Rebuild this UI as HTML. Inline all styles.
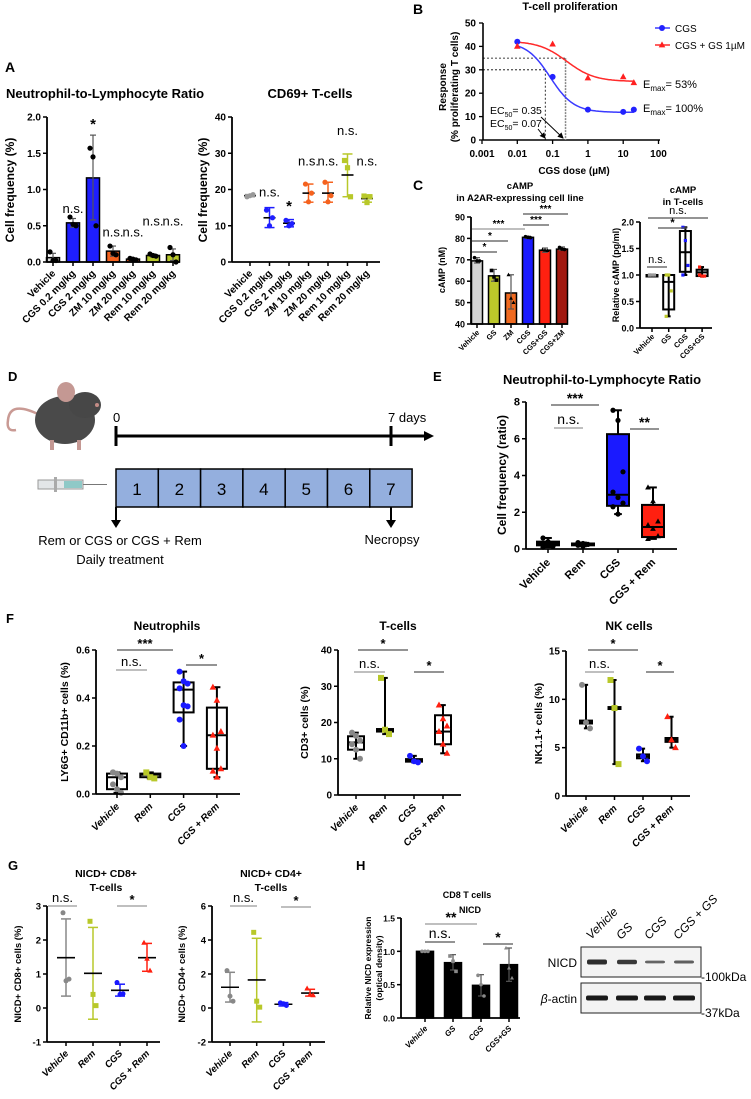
<!DOCTYPE html>
<html><head><meta charset="utf-8"><style>
html,body{margin:0;padding:0;background:#fff;}
svg{display:block;font-family:"Liberation Sans",Arial,sans-serif;}
text{font-family:"Liberation Sans",Arial,sans-serif;}
</style></head><body>
<svg id="fig" width="751" height="1099" viewBox="0 0 751 1099" xmlns="http://www.w3.org/2000/svg"></svg>
<script>
// ---------- DATA ----------
const A1_cats=["Vehicle","CGS 0.2 mg/kg","CGS 2 mg/kg","ZM 10 mg/kg","ZM 20 mg/kg","Rem 10 mg/kg","Rem 20 mg/kg"];
const A1_vals=[0.06,0.54,1.16,0.15,0.04,0.09,0.10];
const A1_errLo=[0.0,0.48,0.58,0.08,0.02,0.07,0.02];
const A1_errHi=[0.12,0.60,1.75,0.22,0.05,0.11,0.18];
const A1_pts=[[0.14,0.02,0.02],[0.62,0.52,0.50],[1.57,1.45,0.50],[0.22,0.12,0.10],[0.05,0.04,0.03],[0.11,0.09,0.08],[0.20,0.10,0.0]];
const A1_sig=["","n.s.","*","n.s.","n.s.","n.s.","n.s."];
const A1_sigVal=[0,0.62,1.78,0.3,0.3,0.45,0.45];
const A2_cats=A1_cats;
const A2_mean=[18.3,12.2,10.7,19,19,24,17.5];
const A2_lo=[18,9.5,9.7,16.5,16.5,18,16.5];
const A2_hi=[18.6,15,11.7,21.5,22,29.8,18.5];
const A2_pts=[[18,18.3,18.6],[14.3,10,12.2],[11.5,10,10.6],[21.5,16.6,19],[22,16.6,18.3],[28,26,18],[18.2,16.4,18]];
const A2_sig=["","n.s.","*","n.s.","n.s.","n.s.","n.s."];
const A2_sigVal=[0,17,13,25.5,25.5,34,25.5];
const B_doses=[0.01,0.1,1,10,20];
const B_cgs=[42,27,13,12,13];
const B_cgsgs=[40,41,26.5,27,24.5];
const B_top=[42,42.3], B_bottom=[11.8,25], B_ec50=[0.085,0.25], B_hill=[1.3,1.1];
const B_xticks=[0.001,0.01,0.1,1,10,100];
const B_xtickLabels=["0.001","0.01","0.1","1","10","100"];
const B_yticks=[0,10,20,30,40,50];
const C1_cats=["Vehicle","GS","ZM","CGS","CGS+GS","CGS+ZM"];
const C1_vals=[69.5,62.5,54.5,80.5,74.5,75];
const C1_lo=[68.5,60,47,80,73.5,74.5];
const C1_hi=[71,65.5,63,81,75.5,76];
const C1_pts=[[71,69.5,69.5],[65,62,60.5],[63,52,50],[80.8,80.5,80.3],[74.7,74.5,74.3],[75.8,75,74.8]];
const C2_cats=["Vehicle","GS","CGS","CGS+GS"];
const C2_box=[[1,1,1,1,1],[0.22,0.35,0.87,1.0,1.0],[1.0,1.06,1.43,1.83,1.9],[0.97,0.98,1.05,1.1,1.15]];
const C2_pts=[[1,1,1,1],[1,1,0.7,0.22],[1.9,1.65,1.18,1.0],[1.15,0.98,0.98,1.0]];
const E_cats=["Vehicle","Rem","CGS","CGS + Rem"];
const E_box=[[0.1,0.2,0.3,0.4,0.6],[0.15,0.2,0.25,0.3,0.35],[1.9,2.35,2.95,6.25,7.55],[0.55,0.65,1.2,2.4,3.35]];
const E_pts=[[0.6,0.4,0.3,0.25,0.2,0.15,0.1],[0.35,0.3,0.25,0.2,0.15],[7.55,7.0,4.2,3.1,2.8,2.5,2.3,1.9],[3.35,2.6,1.5,1.3,1.1,0.7,0.55]];
const F_cats=["Vehicle","Rem","CGS","CGS + Rem"];
const F1_box=[[0.005,0.02,0.07,0.085,0.09],[0.065,0.07,0.08,0.085,0.09],[0.2,0.34,0.435,0.465,0.51],[0.07,0.105,0.245,0.36,0.445]];
const F1_pts=[[0.09,0.085,0.07,0.04,0.02,0.005,0.09],[0.09,0.07,0.065],[0.51,0.47,0.46,0.44,0.37,0.365,0.31,0.2],[0.445,0.39,0.26,0.245,0.19,0.105,0.095,0.07]];
const F2_box=[[10,12.5,14.5,16.2,17.2],[16.8,17.5,18,18.2,32.3],[9.0,9.2,9.5,9.9,10.8],[11.5,14,17.5,22,24.8]];
const F2_pts=[[17.2,16.3,15,14,12.5,10],[32.3,18,16.8],[10.8,9.3,9.0],[24.8,21,19,17.5,14,11.5]];
const F3_box=[[7,7.5,7.6,7.8,11.5],[3.3,9.0,9.1,9.2,12],[3.6,3.9,4.1,4.3,4.9],[5,5.6,5.8,6.0,8.2]];
const F3_pts=[[11.5,7.6,7],[12,9.1,3.3],[4.9,4.1,3.6],[8.2,5.8,5]];
const G_cats=["Vehicle","Rem","CGS","CGS + Rem"];
const G1_mean=[1.48,1.02,0.52,1.48];
const G1_lo=[0.35,-0.33,0.35,1.08];
const G1_hi=[2.62,2.37,0.7,1.9];
const G1_pts=[[2.8,0.8,0.85],[2.55,0.4,0.07],[0.75,0.4,0.42],[1.92,1.45,1.1]];
const G2_mean=[1.22,1.65,0.22,0.88];
const G2_lo=[0.35,-0.82,0.12,0.7];
const G2_hi=[2.1,4.1,0.32,1.1];
const G2_pts=[[2.2,0.7,0.4],[4.45,0.4,0.05],[0.3,0.25,0.15],[1.15,0.8,0.75]];
const H_cats=["Vehicle","GS","CGS","CGS+GS"];
const H_vals=[1.0,0.83,0.49,0.8];
const H_lo=[1.0,0.72,0.33,0.55];
const H_hi=[1.0,0.95,0.65,1.05];
const H_pts=[[1,1,1],[0.93,0.85,0.7],[0.64,0.5,0.33],[1.05,0.75,0.6]];
const Blot_lanes=["Vehicle","GS","CGS","CGS + GS"];
const Blot_nicd=[1.0,0.9,0.55,0.6];
const Blot_actin=[1.0,1.0,1.0,1.0];

// ---------- HELPERS ----------
const svg=document.getElementById('fig');
const NS='http://www.w3.org/2000/svg';
function el(tag,attrs,name,parent){
  const e=document.createElementNS(NS,tag);
  for(const k in attrs) e.setAttribute(k,attrs[k]);
  
  
  (parent||svg).appendChild(e);
  return e;
}
function txt(x,y,s,o,name){
  o=o||{};
  const a={x:x,y:y,'font-size':o.size||11,'font-weight':o.weight||'bold',fill:o.fill||'#000','text-anchor':o.anchor||'start'};
  if(o.style) a['font-style']=o.style;
  if(o.rot!==undefined) a.transform='rotate('+o.rot+' '+x+' '+y+')';
  const t=el('text',a,name);
  t.textContent=s;
  return t;
}
function line(x1,y1,x2,y2,stroke,w,name,dash){
  const a={x1:x1,y1:y1,x2:x2,y2:y2,stroke:stroke,'stroke-width':w};
  if(dash) a['stroke-dasharray']=dash;
  return el('line',a,name);
}
function scaleY(p){return v=>p.yBot-(v-p.min)/(p.max-p.min)*(p.yBot-p.yTop);}
function catX(p,i){return p.cx0+i*p.step;}
function yAxis(p,ticks,fmt,name,fs){
  const sy=scaleY(p);
  line(p.x,sy(p.min),p.x,sy(p.max),'#000',1.8,name+'-y-axis');
  ticks.forEach(v=>{
    line(p.x-4,sy(v),p.x,sy(v),'#000',1.5,name+'-y-tick');
    txt(p.x-6,sy(v)+3.5,fmt(v),{anchor:'end',size:fs||10},name+'-y-tick-label');
  });
}
function xAxis(p,cats,name,o){
  o=o||{};
  const sy=scaleY(p);
  const y=sy(p.min);
  line(p.x,y,p.xEnd,y,'#000',1.8,name+'-x-axis');
  cats.forEach((c,i)=>{
    const x=catX(p,i);
    line(x,y,x,y+4,'#000',1.5,name+'-x-tick');
    txt(x+3,y+(o.dy||12),c,{anchor:'end',rot:-45,size:o.size||10,style:o.style},name+'-x-label');
  });
}
function marker(shape,x,y,r,color,name){
  if(shape==='s') return el('rect',{x:x-r,y:y-r,width:2*r,height:2*r,fill:color},name);
  if(shape==='t') return el('polygon',{points:(x)+','+(y-r*1.2)+' '+(x-r*1.1)+','+(y+r*0.8)+' '+(x+r*1.1)+','+(y+r*0.8),fill:color},name);
  return el('circle',{cx:x,cy:y,r:r,fill:color},name);
}
function jit(i,n,w){ if(n<=1) return 0; return (i%3-1)*w; }
function sigLine(x1,x2,y,label,name,col,fs){
  line(x1,y,x2,y,col||'#555',1.2,name+'-line');
  txt((x1+x2)/2,y-(label==='n.s.'?4:2),label,{anchor:'middle',size:fs||13,weight:label==='n.s.'?'normal':'bold'},name+'-label');
}
function boxPlot(p,i,q,fill,name,bw){
  const sy=scaleY(p),x=catX(p,i);bw=bw||10;
  line(x,sy(q[0]),x,sy(q[4]),'#000',2,name+'-whisker');
  line(x-bw*0.35,sy(q[0]),x+bw*0.35,sy(q[0]),'#000',2,name+'-cap-low');
  line(x-bw*0.35,sy(q[4]),x+bw*0.35,sy(q[4]),'#000',2,name+'-cap-high');
  el('rect',{x:x-bw,y:sy(q[3]),width:2*bw,height:Math.max(1.5,sy(q[1])-sy(q[3])),fill:fill,stroke:'#000','stroke-width':2},name+'-box');
  line(x-bw,sy(q[2]),x+bw,sy(q[2]),'#000',2,name+'-median');
}
function points(p,i,vals,shape,color,r,jw,name){
  const sy=scaleY(p),x=catX(p,i);
  vals.forEach((v,k)=>marker(shape,x+jit(k,vals.length,jw),sy(v),r,color,name));
}
function meanSd(p,i,m,lo,hi,color,name,mw){
  const sy=scaleY(p),x=catX(p,i);mw=mw||9;
  line(x,sy(lo),x,sy(hi),color,1.5,name+'-sd');
  line(x-5,sy(lo),x+5,sy(lo),color,1.5,name+'-sd-low');
  line(x-5,sy(hi),x+5,sy(hi),color,1.5,name+'-sd-high');
  line(x-mw,sy(m),x+mw,sy(m),'#000',1.6,name+'-mean');
}
function bar(p,i,v,lo,hi,fill,w,name){
  const sy=scaleY(p),x=catX(p,i);
  el('rect',{x:x-w/2,y:sy(v),width:w,height:sy(p.min)-sy(v),fill:fill,stroke:'#000','stroke-width':1.5},name);
  line(x,sy(lo),x,sy(hi),'#555',1.2,name+'-err');
  line(x-3,sy(hi),x+3,sy(hi),'#555',1.2,name+'-err-cap');
  line(x-3,sy(lo),x+3,sy(lo),'#555',1.2,name+'-err-cap');
}
const f1=v=>v.toFixed(1), f0=v=>String(v);

// ---------- PANEL A ----------
txt(5,72,'A',{size:14},'panel-a-letter');
txt(6,98,'Neutrophil-to-Lymphocyte Ratio',{size:13},'panel-a-left-title');
txt(310,98,'CD69+ T-cells',{size:13,anchor:'middle'},'panel-a-right-title');
const pA1={x:47,xEnd:180,yTop:117,yBot:262,min:0,max:2,cx0:53,step:20};
const A1col=['#d8d8d8','#1e1eff','#1e1eff','#f5621e','#f5621e','#b8c82a','#b8c82a'];
A1_vals.forEach((v,i)=>bar(pA1,i,v,A1_errLo[i],A1_errHi[i],A1col[i],13,'a1-bar-'+i));
A1_pts.forEach((vs,i)=>points(pA1,i,vs,'c','#000',2.6,3,'a1-point'));
yAxis(pA1,[0,0.5,1,1.5,2],f1,'a1');
xAxis(pA1,A1_cats,'a1',{size:10});
A1_sig.forEach((s,i)=>{ if(s) txt(catX(pA1,i),scaleY(pA1)(A1_sigVal[i])-4,s,{anchor:'middle',size:s==='*'?15:13,weight:s==='*'?'bold':'normal'},'a1-sig'); });
txt(14,190,'Cell frequency (%)',{size:12,anchor:'middle',rot:-90},'a1-y-title');

const pA2={x:232,xEnd:380,yTop:117,yBot:262,min:0,max:40,cx0:250,step:19.5};
const A2col=['#999','#1e1eff','#1e1eff','#f5621e','#f5621e','#b8c82a','#b8c82a'];
const A2shape=['c','c','c','c','c','s','s'];
A2_mean.forEach((m,i)=>meanSd(pA2,i,m,A2_lo[i],A2_hi[i],A2col[i],'a2-group-'+i,6));
A2_pts.forEach((vs,i)=>points(pA2,i,vs,A2shape[i],A2col[i],2.6,3,'a2-point'));
yAxis(pA2,[0,10,20,30,40],f0,'a2');
xAxis(pA2,A2_cats,'a2',{size:10});
A2_sig.forEach((s,i)=>{ if(s) txt(catX(pA2,i),scaleY(pA2)(A2_sigVal[i])-4,s,{anchor:'middle',size:s==='*'?15:13,weight:s==='*'?'bold':'normal'},'a2-sig'); });
txt(207,190,'Cell frequency (%)',{size:12,anchor:'middle',rot:-90},'a2-y-title');

// ---------- PANEL B ----------
txt(413,14,'B',{size:14},'panel-b-letter');
txt(570,10,'T-cell proliferation',{size:11,anchor:'middle'},'panel-b-title');
const pB={x:483,xEnd:660,yTop:23,yBot:140,min:0,max:50};
const sxB=v=>482+(Math.log10(v)+3)*35.3;
const syB=scaleY(pB);
line(pB.x,pB.yBot,pB.x,pB.yTop,'#000',1.6,'b-y-axis');
line(pB.x,pB.yBot,pB.xEnd,pB.yBot,'#000',1.6,'b-x-axis');
B_yticks.forEach(v=>{line(pB.x-4,syB(v),pB.x,syB(v),'#000',1.3,'b-y-tick');txt(pB.x-7,syB(v)+3.5,String(v),{anchor:'end',size:10},'b-y-tick-label');});
B_xticks.forEach((v,i)=>{line(sxB(v),pB.yBot,sxB(v),pB.yBot+4,'#000',1.3,'b-x-tick');txt(sxB(v),pB.yBot+17,B_xtickLabels[i],{anchor:'middle',size:10},'b-x-tick-label');});
txt(574,174,'CGS dose (µM)',{size:10,anchor:'middle'},'b-x-title');
txt(446,87,'Response',{size:10,anchor:'middle',rot:-90},'b-y-title');
txt(458,87,'(% proliferating T cells)',{size:10,anchor:'middle',rot:-90},'b-y-title-2');
line(pB.x,syB(35),sxB(B_ec50[1]*0.93),syB(35),'#000',0.8,'b-guide',"2,2");
line(sxB(B_ec50[1]*0.93),syB(35),sxB(B_ec50[1]*0.93),pB.yBot,'#888',1.5,'b-guide',"2,1");
line(pB.x,syB(30),sxB(0.062),syB(30),'#000',0.8,'b-guide',"2,2");
line(sxB(0.062),syB(30),sxB(0.062),pB.yBot,'#000',0.8,'b-guide',"2,2");
const Bcols=['#3a3aff','#ff2a2a'];
[0,1].forEach(s=>{
  let d='';
  for(let k=0;k<=80;k++){const lx=-2+k*(Math.log10(20)+2)/80;const x=Math.pow(10,lx);
    const y=B_bottom[s]+(B_top[s]-B_bottom[s])/(1+Math.pow(x/B_ec50[s],B_hill[s]));
    d+=(k?'L':'M')+sxB(x).toFixed(1)+','+syB(y).toFixed(1);}
  el('path',{d:d,fill:'none',stroke:Bcols[s],'stroke-width':1.5},'b-fit-curve-'+s);
});
B_doses.forEach((d,i)=>marker('c',sxB(d),syB(B_cgs[i]),3,'#2222ff','b-cgs-point'));
B_doses.forEach((d,i)=>marker('t',sxB(d),syB(B_cgsgs[i]),3,'#ff2020','b-cgsgs-point'));
line(655,28,670,28,'#3a3aff',1.5,'b-legend-line-cgs');marker('c',662,28,3,'#2222ff','b-legend-marker-cgs');
txt(675,32,'CGS',{size:10,weight:'normal'},'b-legend-cgs');
line(655,45,670,45,'#ff2a2a',1.5,'b-legend-line-cgsgs');marker('t',662,45,3,'#ff2020','b-legend-marker-cgsgs');
txt(675,49,'CGS + GS 1µM',{size:10,weight:'normal'},'b-legend-cgsgs');
(function(){const t=txt(643,88,'',{size:11,weight:'normal'},'b-emax-red');t.innerHTML='E<tspan font-size="8" dy="3">max</tspan><tspan dy="-3">= 53%</tspan>';})();
(function(){const t=txt(643,112,'',{size:11,weight:'normal'},'b-emax-blue');t.innerHTML='E<tspan font-size="8" dy="3">max</tspan><tspan dy="-3">= 100%</tspan>';})();
(function(){const t=txt(490,114,'',{size:10.5,weight:'normal'},'b-ec50-red');t.innerHTML='EC<tspan font-size="7" dy="3">50</tspan><tspan dy="-3">= 0.35</tspan>';})();
(function(){const t=txt(490,127,'',{size:10.5,weight:'normal'},'b-ec50-blue');t.innerHTML='EC<tspan font-size="7" dy="3">50</tspan><tspan dy="-3">= 0.07</tspan>';})();
el('defs',{},'arrow-defs').innerHTML='<marker id="ah" markerWidth="6" markerHeight="6" refX="5" refY="3" orient="auto"><path d="M0,0L6,3L0,6z" fill="#000"/></marker>';
el('line',{x1:538,y1:129,x2:545,y2:138,stroke:'#000','stroke-width':1,'marker-end':'url(#ah)'},'b-ec50-arrow-blue');
el('line',{x1:541,y1:117,x2:563,y2:138,stroke:'#000','stroke-width':1,'marker-end':'url(#ah)'},'b-ec50-arrow-red');

// ---------- PANEL C ----------
txt(413,190,'C',{size:14},'panel-c-letter');
txt(520,189,'cAMP',{size:9.5,anchor:'middle'},'c1-title');
txt(520,201,'in A2AR-expressing cell line',{size:9.5,anchor:'middle'},'c1-title-2');
const pC1={x:471,xEnd:568,yTop:217,yBot:324,min:40,max:90,cx0:477,step:17};
const C1col=['#d4d4d4','#bcc82a','#f06a20','#1a1aff','#ff2010','#a0180f'];
const C1shape=['c','s','t','c','t','c'];
C1_vals.forEach((v,i)=>bar(pC1,i,v,C1_lo[i],C1_hi[i],C1col[i],11,'c1-bar-'+i));
C1_pts.forEach((vs,i)=>points(pC1,i,vs,C1shape[i],'#000',1.8,2.5,'c1-point'));
yAxis(pC1,[40,50,60,70,80,90],f0,'c1',9);
xAxis(pC1,C1_cats,'c1',{size:7.5,dy:9});
sigLine(523,568,214,'***','c1-sig-a','#555',10);
sigLine(523,549,225,'***','c1-sig-b','#555',10);
sigLine(472,525,229,'***','c1-sig-c','#999',10);
sigLine(472,508,241,'*','c1-sig-d','#555',10);
sigLine(472,497,252,'*','c1-sig-e','#555',10);
txt(445,270,'cAMP (nM)',{size:9,anchor:'middle',rot:-90},'c1-y-title');

txt(683,193,'cAMP',{size:9.5,anchor:'middle'},'c2-title');
txt(683,205,'in T-cells',{size:9.5,anchor:'middle'},'c2-title-2');
const pC2={x:640,xEnd:712,yTop:222,yBot:328,min:0,max:2,cx0:652,step:16.7};
const C2col=['#999','#bcc82a','#1a1aff','#ff2010'];
C2_box.forEach((q,i)=>boxPlot(pC2,i,q,'none','c2-box-'+i,5.5));
C2_pts.forEach((vs,i)=>points(pC2,i,vs,'s',C2col[i],1.6,2.5,'c2-point'));
yAxis(pC2,[0,0.5,1,1.5,2],f1,'c2',9);
xAxis(pC2,C2_cats,'c2',{size:7.5,dy:9});
sigLine(648,708,218,'n.s.','c2-sig-top','#555',11);
sigLine(658,687,228,'*','c2-sig-mid','#555',11);
sigLine(647,667,267,'n.s.','c2-sig-low','#555',11);
txt(619,275,'Relative cAMP (pg/ml)',{size:9,anchor:'middle',rot:-90},'c2-y-title');

// ---------- PANEL D ----------
txt(8,381,'D',{size:13},'panel-d-letter');
el('path',{d:'M40,415 Q10,400 8,420 Q6,432 16,430',fill:'none',stroke:'#c99a94','stroke-width':2.5},'mouse-tail');
el('ellipse',{cx:65,cy:420,rx:30,ry:24,fill:'#4a4a4a'},'mouse-body');
el('ellipse',{cx:85,cy:405,rx:16,ry:13,fill:'#474747'},'mouse-head');
el('ellipse',{cx:66,cy:392,rx:9,ry:10,fill:'#c49893'},'mouse-ear');
el('circle',{cx:97,cy:405,r:2,fill:'#c48c86'},'mouse-nose');
el('rect',{x:50,y:440,width:4,height:10,fill:'#c49893'},'mouse-foot');
el('rect',{x:77,y:440,width:4,height:10,fill:'#c49893'},'mouse-foot');
line(116,436,425,436,'#000',3,'timeline-axis');
el('polygon',{points:'424,431 434,436 424,441',fill:'#000'},'timeline-arrowhead');
line(116,426,116,446,'#000',3,'timeline-tick-start');
line(391,426,391,446,'#000',3,'timeline-tick-end');
txt(113,422,'0',{size:13,weight:'normal'},'timeline-start-label');
txt(388,422,'7 days',{size:13,weight:'normal'},'timeline-end-label');
el('rect',{x:38,y:480,width:45,height:9,fill:'#e3e6e8',stroke:'#999','stroke-width':1},'syringe-barrel');
el('rect',{x:64,y:481,width:18,height:7,fill:'#8fc9c7'},'syringe-fluid');
el('rect',{x:54,y:477,width:3,height:15,fill:'#aaa'},'syringe-plunger');
line(83,484.5,107,484.5,'#777',1,'syringe-needle');
for(let k=0;k<7;k++){
  el('rect',{x:116+k*42.3,y:469,width:42.3,height:38,fill:'#94afde',stroke:'#000','stroke-width':1.5},'day-box');
  txt(116+k*42.3+21,495,String(k+1),{size:17,weight:'normal',anchor:'middle'},'day-label');
}
line(116,507,116,522,'#000',2,'treatment-arrow');
el('polygon',{points:'111,520 121,520 116,528',fill:'#000'},'treatment-arrowhead');
line(391,507,391,522,'#000',2,'necropsy-arrow');
el('polygon',{points:'386,520 396,520 391,528',fill:'#000'},'necropsy-arrowhead');
txt(120,545,'Rem or CGS or CGS + Rem',{size:13,weight:'normal',anchor:'middle'},'treatment-label');
txt(120,564,'Daily treatment',{size:13,weight:'normal',anchor:'middle'},'treatment-label-2');
txt(392,544,'Necropsy',{size:13,weight:'normal',anchor:'middle'},'necropsy-label');

// ---------- PANEL E ----------
txt(433,381,'E',{size:13},'panel-e-letter');
txt(602,384,'Neutrophil-to-Lymphocyte Ratio',{size:13,anchor:'middle'},'e-title');
const pE={x:526,xEnd:677,yTop:402,yBot:549,min:0,max:8,cx0:548,step:35};
const Ecol=['#fff','#fff','#1a1aff','#ff2010'];
const Eshape=['c','c','c','t'];
E_box.forEach((q,i)=>boxPlot(pE,i,q,Ecol[i],'e-box-'+i,11));
E_pts.forEach((vs,i)=>points(pE,i,vs,Eshape[i],'#000',2.6,5,'e-point'));
yAxis(pE,[0,2,4,6,8],f0,'e',11);
xAxis(pE,E_cats,'e',{size:11,dy:14});
sigLine(551,599,405,'***','e-sig-a','#555',14);
sigLine(554,583,428,'n.s.','e-sig-b','#999',14);
sigLine(630,659,429,'**','e-sig-c','#555',14);
txt(506,475,'Cell frequency (ratio)',{size:12,anchor:'middle',rot:-90},'e-y-title');

// ---------- PANEL F ----------
txt(6,623,'F',{size:13},'panel-f-letter');
const FcolPt=['#888','#b8c82a','#1a1aff','#ff2010'];
const Fshape=['c','s','c','t'];
function fPanel(p,box,pts,title,tx,ylab,lx,ticks,fmt,sigs,id,bw){
  txt(tx,630,title,{size:12,anchor:'middle'},id+'-title');
  box.forEach((q,i)=>boxPlot(p,i,q,'none',id+'-box-'+i,bw));
  pts.forEach((vs,i)=>points(p,i,vs,Fshape[i],FcolPt[i],3,4,id+'-point'));
  yAxis(p,ticks,fmt,id,10);
  xAxis(p,F_cats,id,{size:10,style:'italic',dy:13});
  sigs.forEach((s,k)=>sigLine(s[0],s[1],s[2],s[3],id+'-sig-'+k,s[3]==='n.s.'?'#999':'#555',13));
  txt(lx,p.yTop+(p.yBot-p.yTop)/2,ylab,{size:10.5,anchor:'middle',rot:-90},id+'-y-title');
}
fPanel({x:96,xEnd:240,yTop:650,yBot:794,min:0,max:0.6,cx0:117,step:33.3},F1_box,F1_pts,'Neutrophils',167,'LY6G+ CD11b+ cells (%)',68,[0,0.2,0.4,0.6],f1,
  [[117,173,650,'***'],[116,147,670,'n.s.'],[186,217,665,'*']],'f1',10);
fPanel({x:338,xEnd:461,yTop:650,yBot:795,min:0,max:40,cx0:356,step:29},F2_box,F2_pts,'T-cells',398,'CD3+ cells (%)',308,[0,10,20,30,40],f0,
  [[358,408,650,'*'],[354,385,672,'n.s.'],[414,444,672,'*']],'f2',8);
fPanel({x:566,xEnd:690,yTop:651,yBot:796,min:0,max:15,cx0:586,step:28.5},F3_box,F3_pts,'NK cells',629,'NK1.1+ cells (%)',542,[0,5,10,15],f0,
  [[588,638,650,'*'],[585,614,672,'n.s.'],[646,674,672,'*']],'f3',6);

// ---------- PANEL G ----------
txt(8,870,'G',{size:13},'panel-g-letter');
const Gcol=['#888','#b8c82a','#1a1aff','#ff2010'];
const Gshape=['c','s','c','t'];
function gPanel(p,mean,lo,hi,pts,tx,ylab,lx,ticks,sigs,id){
  txt(tx,877,'NICD+ '+(id==='g1'?'CD8+':'CD4+'),{size:10.5,anchor:'middle'},id+'-title');
  txt(tx,891,'T-cells',{size:10.5,anchor:'middle'},id+'-title-2');
  mean.forEach((m,i)=>meanSd(p,i,m,lo[i],hi[i],Gcol[i],id+'-group-'+i,9));
  pts.forEach((vs,i)=>points(p,i,vs,Gshape[i],Gcol[i],2.5,3,id+'-point'));
  yAxis(p,ticks,f0,id,9.5);
  xAxis(p,G_cats,id,{size:9.5,style:'italic',dy:12});
  sigs.forEach((s,k)=>sigLine(s[0],s[1],s[2],s[3],id+'-sig-'+k,'#999',13));
  txt(lx,(p.yTop+p.yBot)/2,ylab,{size:9.5,anchor:'middle',rot:-90},id+'-y-title');
}
gPanel({x:47,xEnd:160,yTop:906,yBot:1042,min:-1,max:3,cx0:66,step:27},G1_mean,G1_lo,G1_hi,G1_pts,106,'NICD+ CD8+ cells (%)',21,[-1,0,1,2,3],
  [[48,77,906,'n.s.'],[117,147,906,'*']],'g1');
gPanel({x:212,xEnd:325,yTop:906,yBot:1042,min:-2,max:6,cx0:230,step:26.7},G2_mean,G2_lo,G2_hi,G2_pts,271,'NICD+ CD4+ cells (%)',185,[-2,0,2,4,6],
  [[230,257,906,'n.s.'],[281,311,907,'*']],'g2');

// ---------- PANEL H ----------
txt(356,870,'H',{size:13},'panel-h-letter');
txt(467,898,'CD8 T cells',{size:9,anchor:'middle'},'h-title');
txt(470,913,'NICD',{size:9,anchor:'middle'},'h-title-2');
const pH={x:401,xEnd:520,yTop:918,yBot:1018,min:0,max:1.5,cx0:425,step:28};
H_vals.forEach((v,i)=>bar(pH,i,v,H_lo[i],H_hi[i],'#000',17,'h-bar-'+i));
H_pts.forEach((vs,i)=>points(pH,i,vs,i===3?'t':(i===1?'s':'c'),'#888',1.8,3,'h-point'));
yAxis(pH,[0,0.5,1,1.5],f1,'h',8.5);
xAxis(pH,H_cats,'h',{size:8,style:'italic',dy:11});
sigLine(425,477,924,'**','h-sig-a','#999',14);
sigLine(425,455,942,'n.s.','h-sig-b','#555',14);
sigLine(483,513,944,'*','h-sig-c','#555',14);
txt(371,968,'Relative NICD expression',{size:8.5,anchor:'middle',rot:-90},'h-y-title');
txt(382,968,'(optical density)',{size:8.5,anchor:'middle',rot:-90},'h-y-title-2');

el('rect',{x:581,y:947,width:120,height:30,fill:'#f3f3f3',stroke:'#222','stroke-width':1},'blot-nicd-frame');
el('rect',{x:581,y:983,width:120,height:30,fill:'#f3f3f3',stroke:'#222','stroke-width':1},'blot-actin-frame');
const laneX=[597,627,655,684];
Blot_lanes.forEach((l,i)=>{
  txt(laneX[i]-6,940,l,{size:12,weight:'normal',style:'italic',rot:-45},'blot-lane-label');
  el('rect',{x:laneX[i]-10,y:962-2.5*Blot_nicd[i],width:20,height:5*Blot_nicd[i],rx:2,fill:'#222','fill-opacity':0.35+0.6*Blot_nicd[i]},'blot-nicd-band');
  el('rect',{x:laneX[i]-11,y:998-2.5*Blot_actin[i],width:22,height:5*Blot_actin[i],rx:2,fill:'#1a1a1a'},'blot-actin-band');
});
txt(577,967,'NICD',{size:12,weight:'normal',anchor:'end'},'blot-nicd-label');
(function(){const t=txt(577,1003,'',{size:12,weight:'normal',anchor:'end'},'blot-actin-label');t.innerHTML='<tspan font-style="italic">β</tspan>-actin';})();
txt(701,981,'-100kDa',{size:12,weight:'normal'},'blot-100kda');
txt(701,1017,'-37kDa',{size:12,weight:'normal'},'blot-37kda');
</script>
</body></html>
